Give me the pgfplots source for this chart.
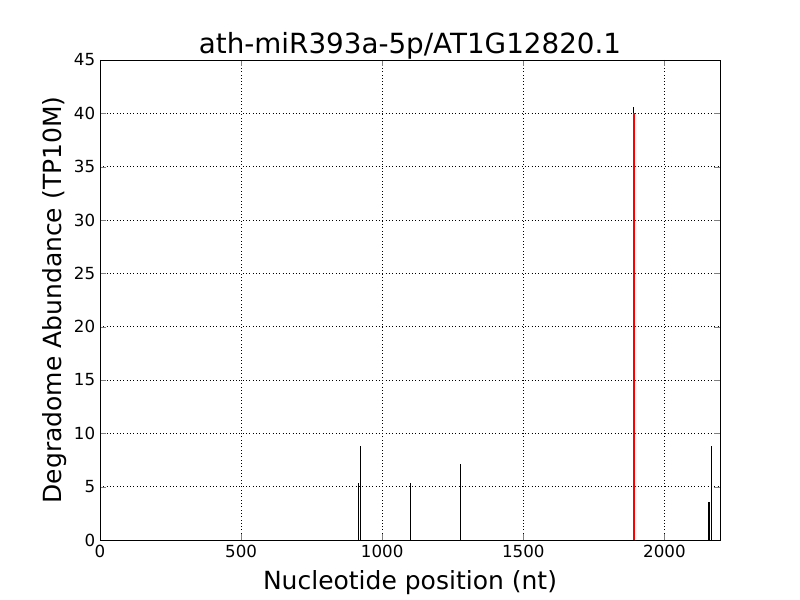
\documentclass[border=0pt]{standalone}
\usepackage{fontspec}
\setmainfont{DejaVu Sans}
\usepackage{pgfplots}
\pgfplotsset{compat=1.18}
\begin{document}
\begin{tikzpicture}
\useasboundingbox (0,0) rectangle (8in,6in);
\begin{axis}[
  at={(1in,0.6in)}, anchor=south west,
  scale only axis, width=6.2in, height=4.8in,
  xmin=0, xmax=2197, ymin=0, ymax=45,
  xtick={0,500,1000,1500,2000},
  ytick={0,5,...,45},
  tick align=inside,
  major tick length=4bp,
  xtick pos=both, ytick pos=both,
  grid=major,
  major grid style={black, dotted, line width=0.5pt},
  axis line style={black, line width=0.6pt},
  /pgf/number format/assume math mode=true,
  /pgf/number format/set thousands separator={},
  tick label style={font=\fontsize{12bp}{14bp}\selectfont},
  title={ath-miR393a-5p/AT1G12820.1},
  title style={font=\fontsize{20bp}{24bp}\selectfont, yshift=-9bp},
  xlabel={Nucleotide position (nt)},
  ylabel={Degradome Abundance (TP10M)},
  label style={font=\fontsize{18bp}{22bp}\selectfont},
  xlabel style={yshift=-2.5bp},
  ylabel style={yshift=-2bp},
]
\addplot[ycomb, black, line width=0.75pt, mark=none] coordinates {
  (915,5.3) (923,8.8) (1099,5.3) (1276,7.1) (1891,40.6) (2158,3.6) (2166,8.8)
};
\addplot[ycomb, red, line width=1.5pt, mark=none] coordinates {
  (1891,40)
};
\end{axis}
\end{tikzpicture}
\end{document}
